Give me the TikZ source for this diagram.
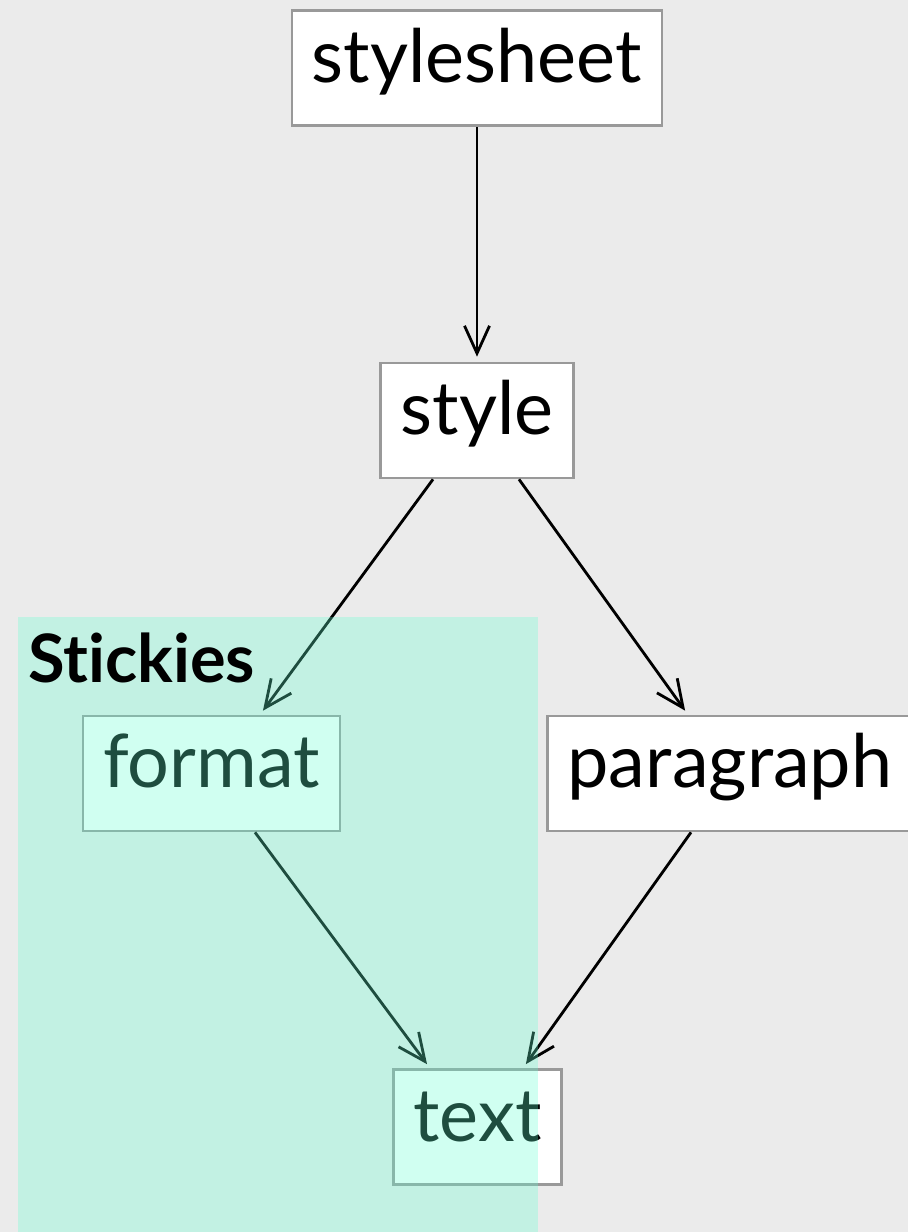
\documentclass[tikz,border=0pt]{standalone}
\usepackage{fontspec}
\setmainfont{Lato}[Ligatures={NoCommon}]
\usetikzlibrary{arrows.meta}
\definecolor{bgGray}{HTML}{EBEBEB}
\definecolor{boxGray}{HTML}{999999}
\definecolor{stickyMint}{RGB}{100,255,210}

\begin{document}
\begin{tikzpicture}[x=0.02cm, y=-0.02cm,
        term/.style={draw=boxGray, line width=1.5pt, fill=white, minimum height=2.3cm,
            inner xsep=0.4cm, text height=1.1cm, text depth=0.54cm, font=\fontsize{42}{50}\selectfont},
        link/.style={line width=1.6pt, -{Straight Barb[length=0.55cm, width=0.5cm, line width=1.6pt]}, shorten >=0.1cm}]
        % Background
        \fill[bgGray] (0,0) rectangle (908,1232);
        \useasboundingbox (0,0) rectangle (908,1232);

        % Draw the boxes
        \node[term] (stylesheet) at (477,68) {stylesheet};
        \node[term] (style) at (477,420.5) {style};
        \node[term] (format) at (211.5,773.5) {format};
        \node[term] (paragraph) at (730,773.5) {paragraph};
        \node[term] (text) at (477.5,1127) {text};

        % Draw the arrows
        \draw[link] (stylesheet.south) -- (style.north);
        \draw[link] ([xshift=-0.88cm]style.south) -- ([xshift=0.97cm]format.north);
        \draw[link] ([xshift=0.84cm]style.south) -- ([xshift=-0.84cm]paragraph.north);
        \draw[link] ([xshift=0.87cm]format.south) -- ([xshift=-0.95cm]text.north);
        \draw[link] ([xshift=-0.78cm]paragraph.south) -- ([xshift=0.91cm]text.north);

        % Draw the stickies layer
        \fill[stickyMint, opacity=0.3] (18,617) rectangle (538,1232);
        \node[anchor=base west, inner sep=0pt, font=\fontsize{38}{44}\selectfont\bfseries] (stickies) at (28,682) {Stickies};
    \end{tikzpicture}
\end{document}
